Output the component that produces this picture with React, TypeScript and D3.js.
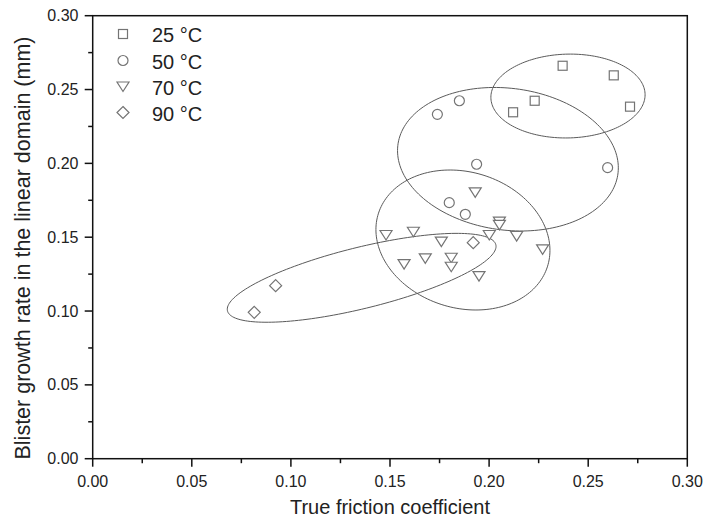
import React from "react";
import * as d3 from "d3";

// ---- data ----
const seriesLabels = ["25 °C", "50 °C", "70 °C", "90 °C"];

const x25 = [0.2371, 0.2629, 0.2711, 0.2230, 0.2121];
const y25 = [0.2661, 0.2596, 0.2384, 0.2424, 0.2346];

const x50 = [0.1850, 0.1739, 0.1937, 0.2598, 0.1799, 0.1880];
const y50 = [0.2424, 0.2332, 0.1994, 0.1971, 0.1734, 0.1655];

const x70 = [0.1930, 0.2052, 0.2052, 0.1480, 0.1618, 0.1759, 0.2001, 0.2139, 0.2270, 0.1571, 0.1678, 0.1809, 0.1809, 0.1949];
const y70 = [0.1804, 0.1605, 0.1583, 0.1515, 0.1537, 0.1470, 0.1515, 0.1508, 0.1418, 0.1318, 0.1357, 0.1361, 0.1300, 0.1237];

const x90 = [0.1920, 0.0923, 0.0815];
const y90 = [0.1463, 0.1172, 0.0991];

// grouping ellipses (data units): centre, half extents, tilt (x-offset of top point / half width)
const ellCx = [0.2398, 0.2095, 0.1868, 0.1357];
const ellCy = [0.2456, 0.2028, 0.1481, 0.1225];
const ellW = [0.0389, 0.0557, 0.0439, 0.0678];
const ellH = [0.0284, 0.0486, 0.0474, 0.0301];
const ellTilt = [0.03, -0.12, -0.149, 0.707];

const xTicks = [0, 0.05, 0.1, 0.15, 0.2, 0.25, 0.3];
const yTicks = [0, 0.05, 0.1, 0.15, 0.2, 0.25, 0.3];
const xMinor = [0.025, 0.075, 0.125, 0.175, 0.225, 0.275];
const yMinor = [0.025, 0.075, 0.125, 0.175, 0.225, 0.275];

const W = 703;
const H = 524;
const L = 92.7, R = 687.3, T = 15.7, B = 458.7;
const FONT = "'Liberation Sans', Arial, Helvetica, sans-serif";
const MK = "#747474";

type Shape = "square" | "circle" | "tri" | "diamond";

function Marker({ cx, cy, shape }: { cx: number; cy: number; shape: Shape }) {
  const common = { fill: "white", stroke: MK, strokeWidth: 1.2 } as any;
  if (shape === "square") return <rect x={cx - 4.5} y={cy - 4.5} width={9} height={9} {...common} />;
  if (shape === "circle") return <circle cx={cx} cy={cy} r={5} {...common} />;
  if (shape === "tri")
    return <path d={`M${cx - 6},${cy - 4.5}L${cx + 6},${cy - 4.5}L${cx},${cy + 5}Z`} {...common} />;
  return <path d={`M${cx},${cy - 6}L${cx + 6},${cy}L${cx},${cy + 6}L${cx - 6},${cy}Z`} {...common} />;
}

export default function App() {
  const x = d3.scaleLinear().domain([0, 0.3]).range([L, R]);
  const y = d3.scaleLinear().domain([0, 0.3]).range([B, T]);

  const series: { xs: number[]; ys: number[]; shape: Shape }[] = [
    { xs: x25, ys: y25, shape: "square" },
    { xs: x50, ys: y50, shape: "circle" },
    { xs: x70, ys: y70, shape: "tri" },
    { xs: x90, ys: y90, shape: "diamond" },
  ];

  const line = d3
    .line<[number, number]>()
    .x((d) => x(d[0]))
    .y((d) => y(d[1]))
    .curve(d3.curveLinearClosed);

  const ellipses = ellCx.map((cx, i) => {
    const delta = Math.acos(ellTilt[i]);
    const pts: [number, number][] = d3.range(0, 180).map((k) => {
      const t = (k / 180) * Math.PI * 2;
      return [cx + ellW[i] * Math.cos(t), ellCy[i] + ellH[i] * Math.cos(t + delta)];
    });
    return line(pts) as string;
  });

  const legendY = [34, 60.5, 86.5, 112.5];

  return (
    <svg
      width={W}
      height={H}
      style={{ position: "absolute", left: 0, top: 0, background: "white" }}
      fontFamily={FONT}
    >
      <rect x={0} y={0} width={W} height={H} fill="white" />
      {/* ellipses */}
      {ellipses.map((d, i) => (
        <path key={"e" + i} d={d} fill="none" stroke="#5a5a5a" strokeWidth={1} />
      ))}
      {/* markers */}
      {series.map((s, si) =>
        s.xs.map((v, i) => <Marker key={si + "-" + i} cx={x(v)} cy={y(s.ys[i])} shape={s.shape} />)
      )}
      {/* frame */}
      <rect x={L} y={T} width={R - L} height={B - T} fill="none" stroke="#111" strokeWidth={1.5} />
      {/* x ticks */}
      {xTicks.map((t) => (
        <g key={"xt" + t}>
          <line x1={x(t)} x2={x(t)} y1={B} y2={B + 8} stroke="#111" strokeWidth={1.5} />
          <text x={x(t)} y={486.5} textAnchor="middle" fontSize={16} fill="#222">
            {d3.format(".2f")(t)}
          </text>
        </g>
      ))}
      {xMinor.map((t) => (
        <line key={"xm" + t} x1={x(t)} x2={x(t)} y1={B} y2={B + 4.5} stroke="#111" strokeWidth={1.5} />
      ))}
      {/* y ticks */}
      {yTicks.map((t) => (
        <g key={"yt" + t}>
          <line x1={L - 8} x2={L} y1={y(t)} y2={y(t)} stroke="#111" strokeWidth={1.5} />
          <text x={78.5} y={y(t) + 5.6} textAnchor="end" fontSize={16} fill="#222">
            {d3.format(".2f")(t)}
          </text>
        </g>
      ))}
      {yMinor.map((t) => (
        <line key={"ym" + t} x1={L - 4.5} x2={L} y1={y(t)} y2={y(t)} stroke="#111" strokeWidth={1.5} />
      ))}
      {/* axis titles */}
      <text x={(L + R) / 2} y={514} textAnchor="middle" fontSize={20} fill="#222">
        True friction coefficient
      </text>
      <text
        transform={`translate(29.5,248) rotate(-90)`}
        textAnchor="middle"
        fontSize={21.5}
        fill="#222"
      >
        Blister growth rate in the linear domain (mm)
      </text>
      {/* legend */}
      {seriesLabels.map((lab, i) => (
        <g key={"lg" + i}>
          <Marker cx={123} cy={legendY[i]} shape={series[i].shape} />
          <text x={152} y={legendY[i] + 8} fontSize={20} fill="#222">
            {lab}
          </text>
        </g>
      ))}
    </svg>
  );
}
